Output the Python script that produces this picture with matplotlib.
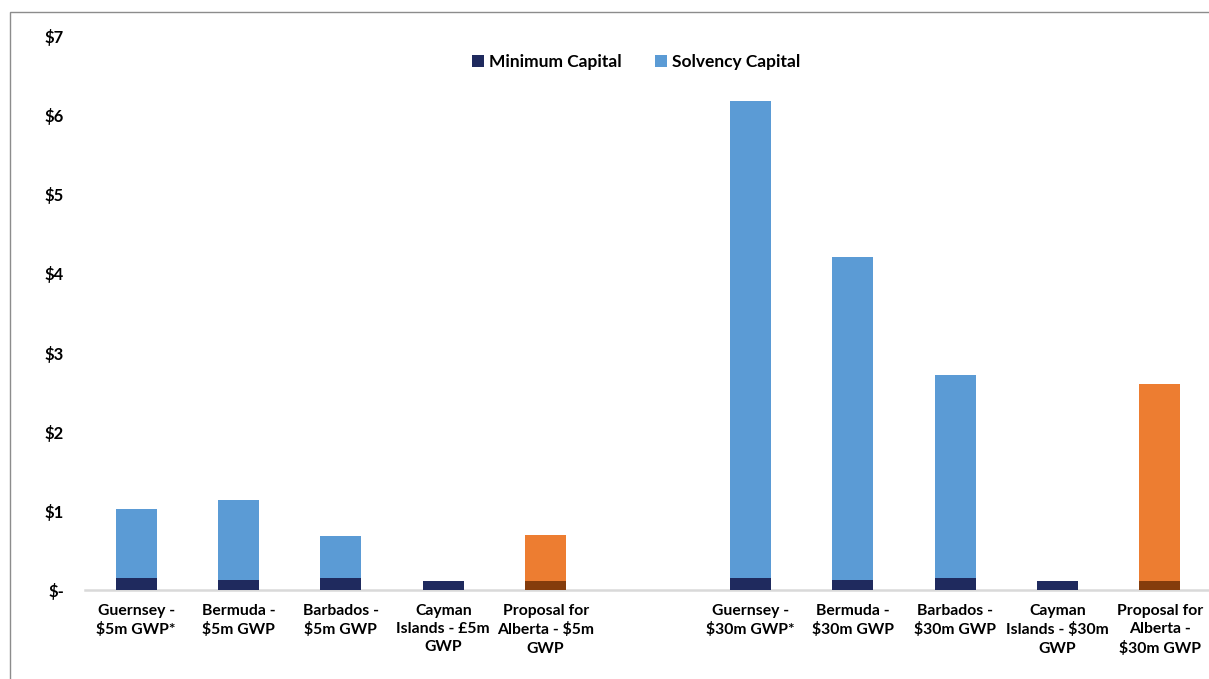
import numpy as np
import matplotlib
matplotlib.use("Agg")
import matplotlib.pyplot as plt
from matplotlib.patches import Patch, Rectangle

# Data (in $ millions), blank slot separates the two GWP groups
categories = [
    "Guernsey -\n$5m GWP*", "Bermuda -\n$5m GWP", "Barbados -\n$5m GWP",
    "Cayman\nIslands - £5m\nGWP", "Proposal for\nAlberta - $5m\nGWP", "",
    "Guernsey -\n$30m GWP*", "Bermuda -\n$30m GWP", "Barbados -\n$30m GWP",
    "Cayman\nIslands - $30m\nGWP", "Proposal for\nAlberta -\n$30m GWP",
]
minimum_capital = [0.15, 0.13, 0.15, 0.11, 0.11, np.nan, 0.15, 0.13, 0.15, 0.11, 0.11]
solvency_capital = [1.02, 1.14, 0.68, np.nan, 0.70, np.nan, 6.18, 4.21, 2.72, np.nan, 2.60]
y_ticks = [0, 1, 2, 3, 4, 5, 6, 7]
y_labels = ["$-", "$1", "$2", "$3", "$4", "$5", "$6", "$7"]

navy = "#1F2A5E"
light_blue = "#5B9BD5"
orange = "#ED7D31"
brown = "#843C0C"

plt.rcParams["font.family"] = ["Lato", "DejaVu Sans"]
plt.rcParams["font.weight"] = "bold"

fig = plt.figure(figsize=(12.09, 6.79), dpi=100)
ax = fig.add_axes([85 / 1209, 89 / 679, 1 - 85 / 1209, (590 - 36) / 679])

x = np.arange(len(categories))
is_alberta = ["Alberta" in c for c in categories]
solv_colors = [orange if a else light_blue for a in is_alberta]
min_colors = [brown if a else navy for a in is_alberta]

ax.bar(x, solvency_capital, width=0.4, color=solv_colors, zorder=2)
ax.bar(x, minimum_capital, width=0.4, color=min_colors, zorder=3)

ax.set_xlim(-0.5, 10.48)
ax.set_ylim(0, 7)
ax.set_yticks(y_ticks)
ax.set_yticklabels(y_labels, fontsize=12, fontweight="bold")
ax.set_xticks(x)
ax.set_xticklabels(categories, fontsize=11.3, fontweight="bold", linespacing=1.38)
ax.tick_params(axis="y", length=0, pad=15)
ax.tick_params(axis="x", length=0, pad=10)

for s in ["top", "right", "left"]:
    ax.spines[s].set_visible(False)
ax.spines["bottom"].set_color("#D9D9D9")
ax.spines["bottom"].set_linewidth(1.8)

handles = [Patch(facecolor=navy, label="Minimum Capital"),
           Patch(facecolor=light_blue, label="Solvency Capital")]
fig.legend(handles=handles, loc="center", bbox_to_anchor=(636 / 1209, 1 - 62 / 679),
           ncol=2, frameon=False, handlelength=0.7, handleheight=0.7,
           handletextpad=0.3, columnspacing=1.9, prop={"weight": "bold", "size": 12.5})

# outer chart frame
fig.patches.append(Rectangle((10 / 1209, -0.1), 2, 1.1 - 12 / 679, transform=fig.transFigure,
                             fill=False, edgecolor="#8C8C8C", linewidth=1))

fig.savefig("out.png", dpi=100)
